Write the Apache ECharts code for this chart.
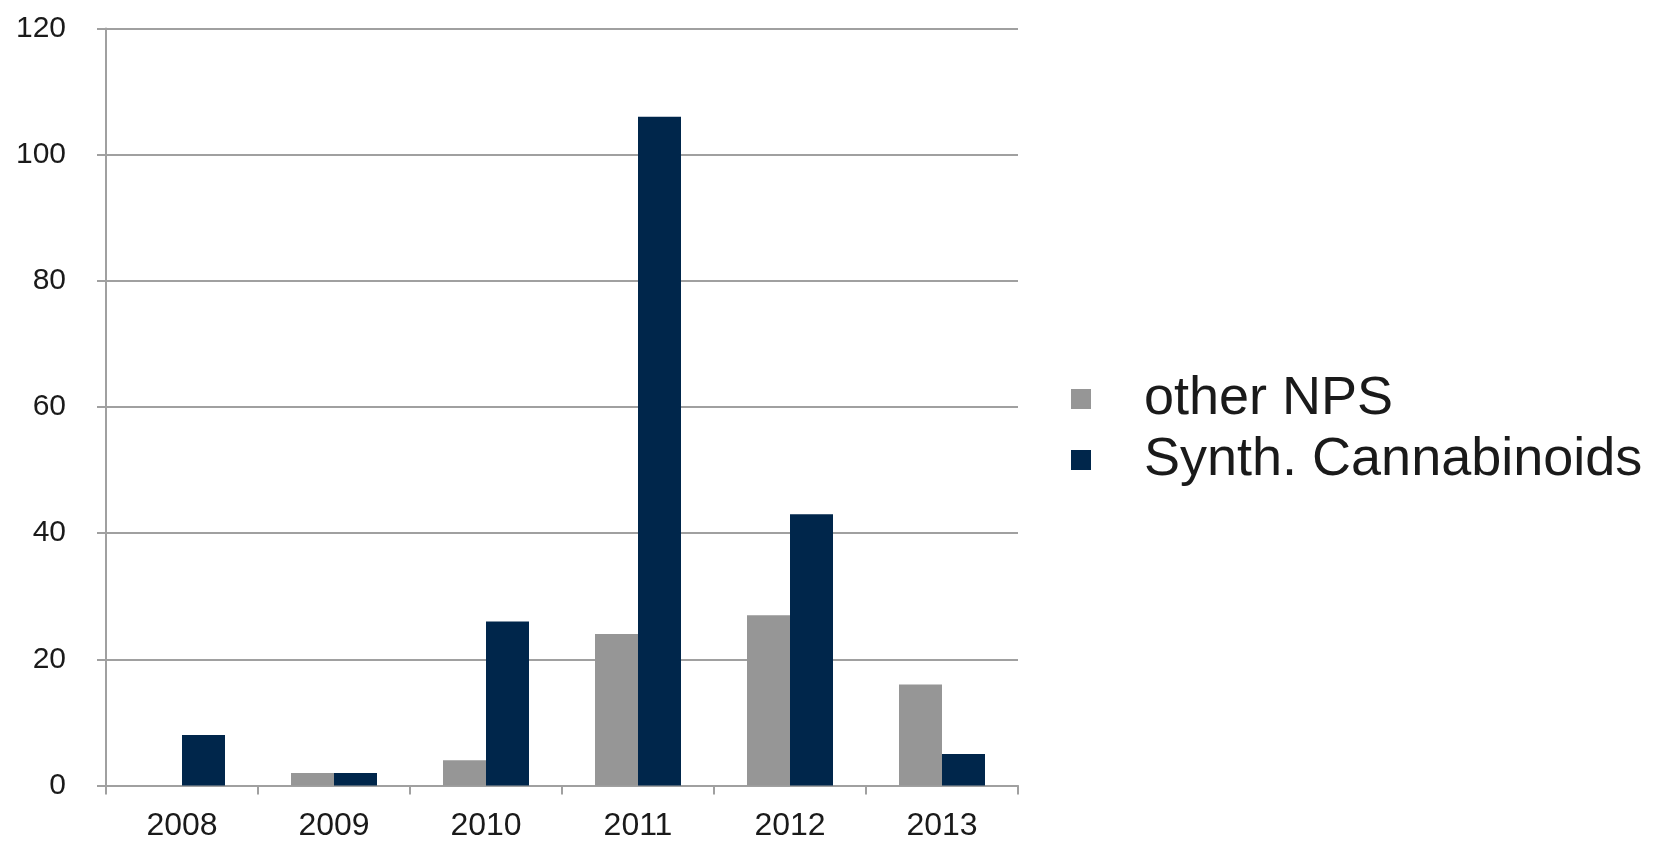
<!DOCTYPE html>
<html><head><meta charset="utf-8">
<script src="https://cdn.jsdelivr.net/npm/echarts@6/dist/echarts.min.js"></script>
<style>html,body{margin:0;padding:0;background:#fff}#c{width:1658px;height:843px}</style>
</head><body><div id="c"></div>
<script>
const categories = ['2008','2009','2010','2011','2012','2013'];
const otherNPS = [0, 2, 4, 24, 27, 16];
const synthCannabinoids = [8, 2, 26, 106, 43, 5];
const seriesNames = ['other NPS', 'Synth. Cannabinoids'];

const chart = echarts.init(document.getElementById('c'));
chart.setOption({
  animation: false,
  backgroundColor: '#fff',
  grid: {left: 106, right: 640, top: 28.5, bottom: 57.5, containLabel: false},
  legend: {
    orient: 'vertical', left: 1071, top: 372, padding: 0,
    itemWidth: 20, itemHeight: 20, itemGap: 7,
    icon: 'rect',
    textStyle: {fontFamily: 'Liberation Sans, Arial', fontSize: 54, lineHeight: 54, color: '#1a1a1a', padding: [0,0,0,48]},
    data: seriesNames
  },
  xAxis: {
    type: 'category', data: categories,
    axisLine: {lineStyle: {color: '#a0a0a0', width: 2}},
    axisTick: {show: true, length: 9, lineStyle: {color: '#a0a0a0', width: 2}},
    axisLabel: {fontFamily: 'Liberation Sans, Arial', fontSize: 32, color: '#1a1a1a', margin: 25}
  },
  yAxis: {
    type: 'value', min: 0, max: 120, interval: 20,
    axisLine: {show: true, lineStyle: {color: '#a0a0a0', width: 2}},
    axisTick: {show: true, length: 9, lineStyle: {color: '#a0a0a0', width: 2}},
    splitLine: {lineStyle: {color: '#a0a0a0', width: 2}},
    axisLabel: {fontFamily: 'Liberation Sans, Arial', fontSize: 30, color: '#1a1a1a', margin: 40}
  },
  series: [
    {name: seriesNames[0], type: 'bar', data: otherNPS, barWidth: 43, barGap: '0%', itemStyle: {color: '#969696'}},
    {name: seriesNames[1], type: 'bar', data: synthCannabinoids, barWidth: 43, barGap: '0%', itemStyle: {color: '#00264b'}}
  ]
});
</script></body></html>
